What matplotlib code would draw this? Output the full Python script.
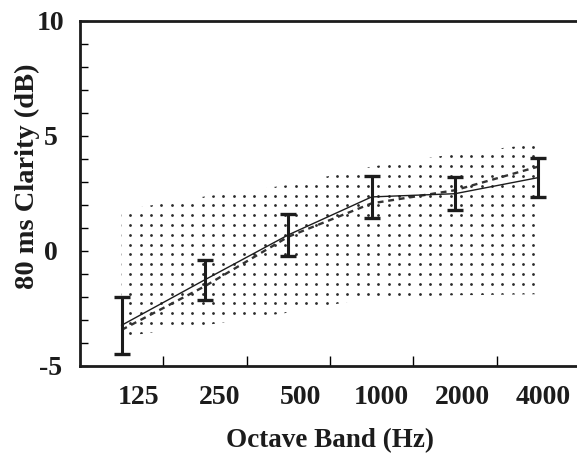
#import libraries
import numpy as np
import matplotlib.pyplot as plt

#Data
bands = ["125", "250", "500", "1000", "2000", "4000"]
clarity_mean = [-3.25, -1.27, 0.68, 2.33, 2.47, 3.17]
clarity_err = [1.25, 0.87, 0.91, 0.92, 0.73, 0.85]
clarity_model = [-3.45, -1.55, 0.60, 2.05, 2.62, 3.65]
range_upper = [1.75, 2.35, 2.85, 3.65, 4.2, 4.65]
range_lower = [-3.75, -3.25, -2.7, -2.05, -1.95, -1.9]

plt.rcParams['font.family'] = ['Liberation Serif', 'DejaVu Serif']
plt.rcParams['font.weight'] = 'bold'
plt.rcParams['axes.unicode_minus'] = False

INK = '#1c1c1c'

fig = plt.figure(figsize=(5.77, 4.59), dpi=100)
ax = fig.add_axes([0.1386, 0.2037, 0.8666, 0.7516])

x = np.arange(len(bands))

#Stippled range: dot grid clipped to the band polygon
band = ax.fill_between(x, range_lower, range_upper, facecolor='none', edgecolor='none')
gx, gy = np.meshgrid(np.arange(-0.02, 5.1, 0.124), np.arange(-4.0, 5.0, 0.426))
dots = ax.scatter(gx.ravel(), gy.ravel(), s=4, marker='o', color='#2a2a2a', linewidths=0)
dots.set_clip_path(band.get_paths()[0], transform=ax.transData)

#Mean line with error bars and the dashed predicted line
ax.plot(x, clarity_model, color='#333333', lw=1.7, ls=(0, (2.5, 2)))
ax.plot(x, clarity_mean, color=INK, lw=1.0)
ax.errorbar(x, clarity_mean, yerr=clarity_err, fmt='none', ecolor=INK,
            elinewidth=2.2, capsize=5.8, capthick=2.4)

ax.set_xlim(-0.5, 5.5)
ax.set_ylim(-5, 10)

#Axes styling
for side in ['left', 'bottom', 'top']:
    ax.spines[side].set_linewidth(2.0)
    ax.spines[side].set_color(INK)
ax.spines['right'].set_visible(False)

ax.set_yticks([-5, 0, 5, 10])
ax.set_yticks(np.arange(-5, 10, 1), minor=True)
ax.tick_params(axis='y', which='both', direction='in', length=6, width=1.0,
               pad=21, labelsize=20, labelcolor=INK)
for lab in ax.get_yticklabels():
    lab.set_horizontalalignment('center')

ax.set_xticks(x[:-1] + 0.5)
ax.set_xticklabels([])
ax.tick_params(axis='x', which='both', direction='in', length=7, width=1.0)
label_pos = 0.2 + 0.972 * x
for pos, name in zip(label_pos, bands):
    ax.text(pos, -0.094, name, transform=ax.get_xaxis_transform(), ha='center',
            va='center', fontsize=20, fontweight='bold', color=INK)

fig.text(0.572, 0.041, "Octave Band (Hz)", ha='center', va='center', fontsize=19.5,
         fontweight='bold', color=INK)
fig.text(0.047, 0.615, "80 ms Clarity (dB)", ha='center', va='center', rotation=90,
         fontsize=20.5, fontweight='bold', color=INK)

fig.savefig("out.png", dpi=100)
